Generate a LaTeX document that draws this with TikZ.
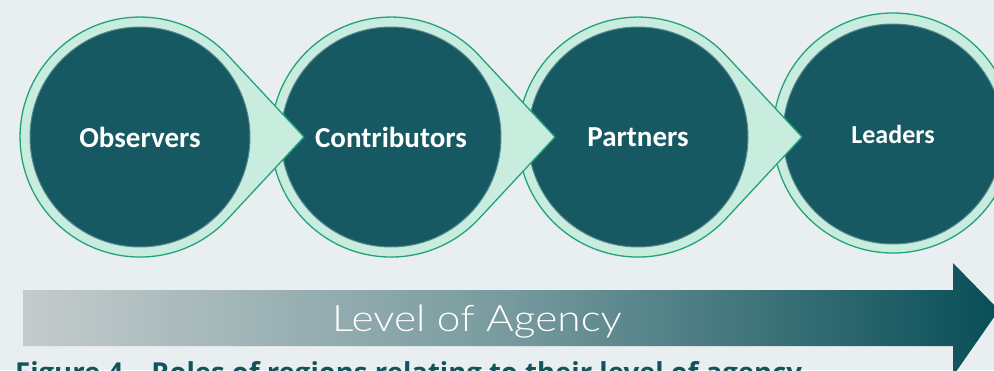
\documentclass[tikz,border=0pt]{standalone}
\usepackage{fontspec}
\setmainfont{Carlito}
\newfontfamily\lightfont{Lato Light}
\newfontfamily\capfont{Open Sans}
\definecolor{bg}{RGB}{233,238,240}
\definecolor{darkteal}{RGB}{22,89,99}
\definecolor{softrim}{RGB}{88,135,141}
\definecolor{mint}{RGB}{200,237,223}
\definecolor{rim}{RGB}{34,163,122}
\definecolor{capcol}{RGB}{18,84,94}
\definecolor{agL}{RGB}{196,203,204}
\definecolor{agM}{RGB}{118,154,158}
\definecolor{agR}{RGB}{8,78,87}
\pgfdeclarehorizontalshading{agency}{100bp}{color(0bp)=(agL); color(25bp)=(agL); color(50bp)=(agM); color(75bp)=(agR); color(100bp)=(agR)}
\tikzset{
  bubble/.style={fill=mint, draw=rim, line width=1.3pt, line join=round},
  core/.style={circle, fill=darkteal, draw=softrim, line width=1pt, minimum size=220pt, inner sep=0pt, text=white, font=\bfseries\fontsize{29}{29}\selectfont},
}
\newcommand\agencybubble[2]{%
  \filldraw[bubble] (#1+164,#2) -- (#1+87.8,#2-81.8) arc[start angle=317, end angle=43, radius=120] -- cycle;}
\begin{document}
\begin{tikzpicture}[x=1pt,y=-1pt]
\useasboundingbox (0,0) rectangle (994,370);
\fill[bg] (0,0) rectangle (994,370);
\begin{scope}
\clip (0,0) rectangle (994,370);
% Leaders (last, drawn first)
\filldraw[bubble] (893,133) circle[radius=120];
\node[core, font=\bfseries\fontsize{26}{26}\selectfont] (lead) at (893,134) {Leaders};
% Partners
\agencybubble{638}{137}
\node[core] (part) at (638,137) {Partners};
% Contributors
\agencybubble{391}{137}
\node[core] (cont) at (391,137) {Contributors};
% Observers
\agencybubble{140}{137}
\node[core] (obs) at (140,137) {Observers};
% Level of agency arrow
\shade[shading=agency] (23,290) -- (953,290) -- (953,263) -- (999,310) -- (953,376) -- (953,346) -- (23,346) -- cycle;
\node[anchor=base, text=white, inner sep=0pt, font=\lightfont\fontsize{36.5}{36.5}\selectfont] (lvl) at (477,331) {\scalebox{1.16}[1]{Level of Agency}};
% caption
\node[anchor=base west, text=capcol, inner sep=0pt, font=\capfont\bfseries\fontsize{27.5}{27.5}\selectfont] (cap) at (15,382) {Figure 4 – Roles of regions relating to their level of agency};
\end{scope}
\end{tikzpicture}
\end{document}
